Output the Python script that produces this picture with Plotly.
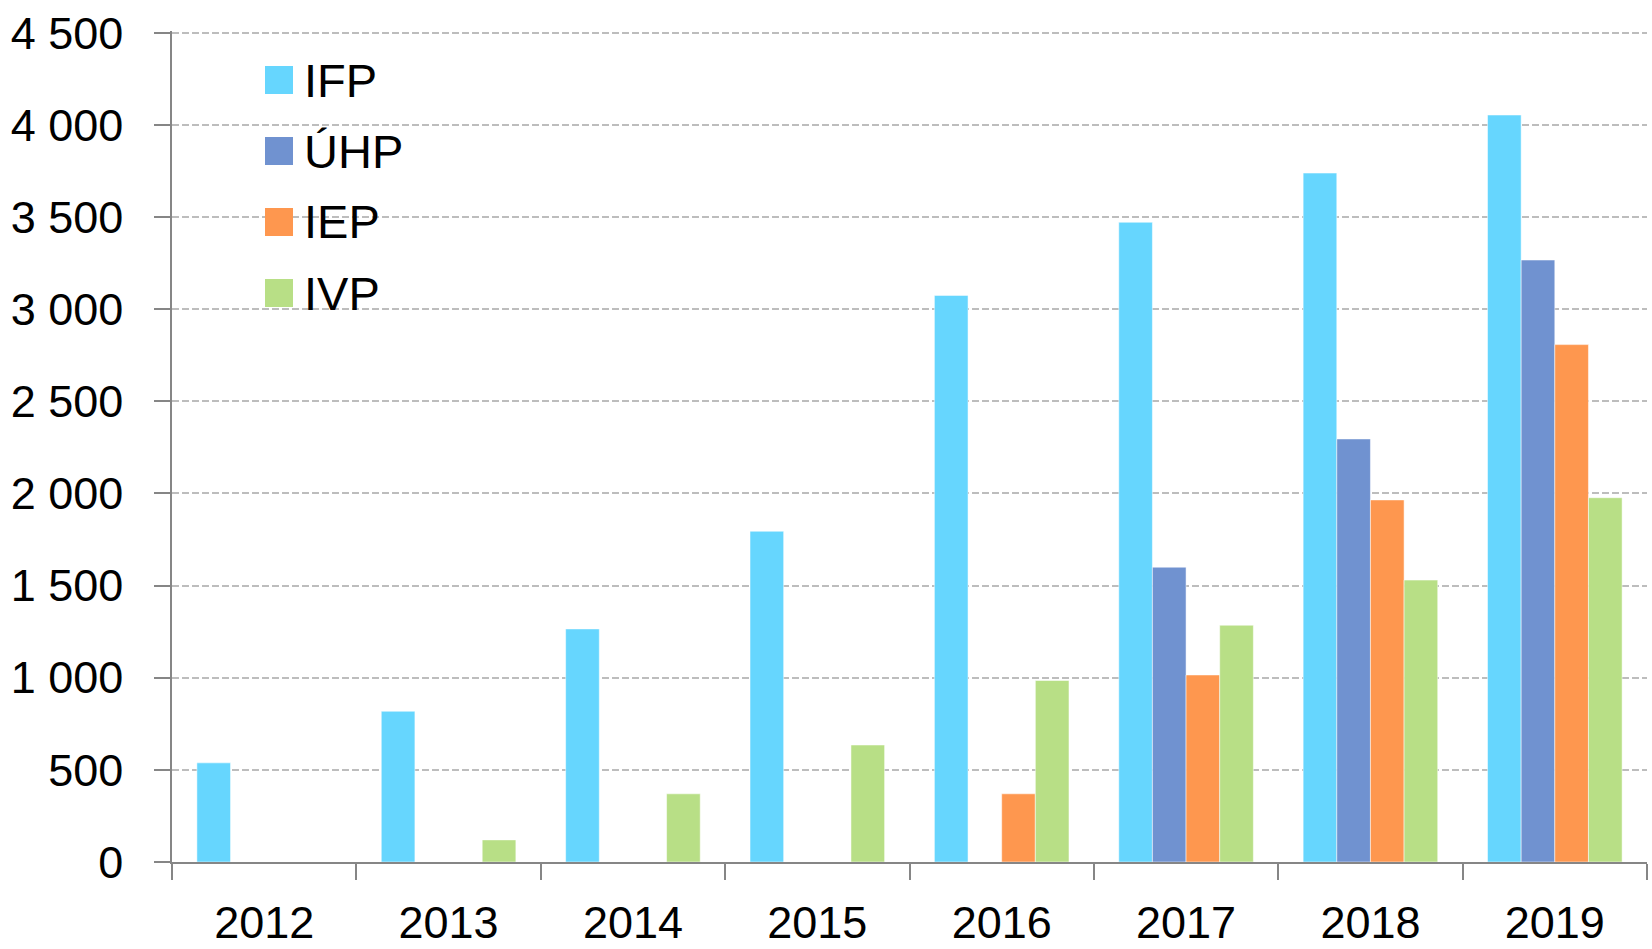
import plotly.graph_objects as go

years = ["2012", "2013", "2014", "2015", "2016", "2017", "2018", "2019"]
series_names = ["IFP", "ÚHP", "IEP", "IVP"]
ifp = [538, 818, 1265, 1795, 3075, 3472, 3739, 4054]
uhp = [0, 0, 0, 0, 0, 1600, 2296, 3267]
iep = [0, 0, 0, 0, 370, 1015, 1965, 2808]
ivp = [0, 120, 370, 635, 985, 1285, 1530, 1977]
colors = ["#66D6FE", "#7092D0", "#FE974F", "#B8DF86"]
y_ticks = [0, 500, 1000, 1500, 2000, 2500, 3000, 3500, 4000, 4500]

FONT = "Liberation Sans, Arial, sans-serif"
FS = 45

fig = go.Figure()
for name, vals, col in zip(series_names, [ifp, uhp, iep, ivp], colors):
    fig.add_trace(go.Bar(
        x=years, y=vals, name=name, showlegend=False,
        marker=dict(color=col, line=dict(color="rgba(255,255,255,0.5)", width=1)),
    ))

W, H = 1652, 949
L, R, T, B = 172, 5, 31, 87
pw, ph = W - L - R, H - T - B

def px_x(px):
    return (px - L) / pw

def px_y(py):
    return (H - B - py) / ph

# manual legend (large swatches like the reference)
for i, (name, col) in enumerate(zip(series_names, colors)):
    cy = 80 + i * 71
    fig.add_shape(type="rect", xref="paper", yref="paper",
                  x0=px_x(265), x1=px_x(293), y0=px_y(cy + 14), y1=px_y(cy - 14),
                  fillcolor=col, line=dict(width=0))
    fig.add_annotation(xref="paper", yref="paper", x=px_x(302), y=px_y(cy),
                       text=name, showarrow=False, xanchor="left", yanchor="middle",
                       font=dict(size=FS + 2, color="#000000", family=FONT))

fig.update_layout(
    width=W, height=H,
    margin=dict(l=L, r=R, t=T, b=B, pad=0, autoexpand=False),
    paper_bgcolor="white", plot_bgcolor="white",
    barmode="group", bargap=0.27, bargroupgap=0,
    separators=", ",
    font=dict(family=FONT, size=FS, color="#000000"),
    xaxis=dict(
        type="category", automargin=False, showline=True, linecolor="#868686", linewidth=1.5,
        ticks="outside", tickson="boundaries", ticklen=16, tickcolor="#868686", tickwidth=1.5,
        showgrid=False, tickfont=dict(size=FS), ticklabelstandoff=20,
    ),
    yaxis=dict(
        range=[0, 4510], tickvals=y_ticks, tickformat=",d", automargin=False,
        showline=True, linecolor="#868686", linewidth=1.5,
        ticks="outside", ticklen=16, tickcolor="#868686", tickwidth=1.5,
        showgrid=True, gridcolor="#BDBDBD", gridwidth=1.5, griddash="7px,3px",
        zeroline=False, tickfont=dict(size=FS), ticklabelstandoff=22,
    ),
)

fig.write_html("out.html", config={"displayModeBar": False},
               post_script="document.body.style.margin='0';document.body.style.padding='0';")
